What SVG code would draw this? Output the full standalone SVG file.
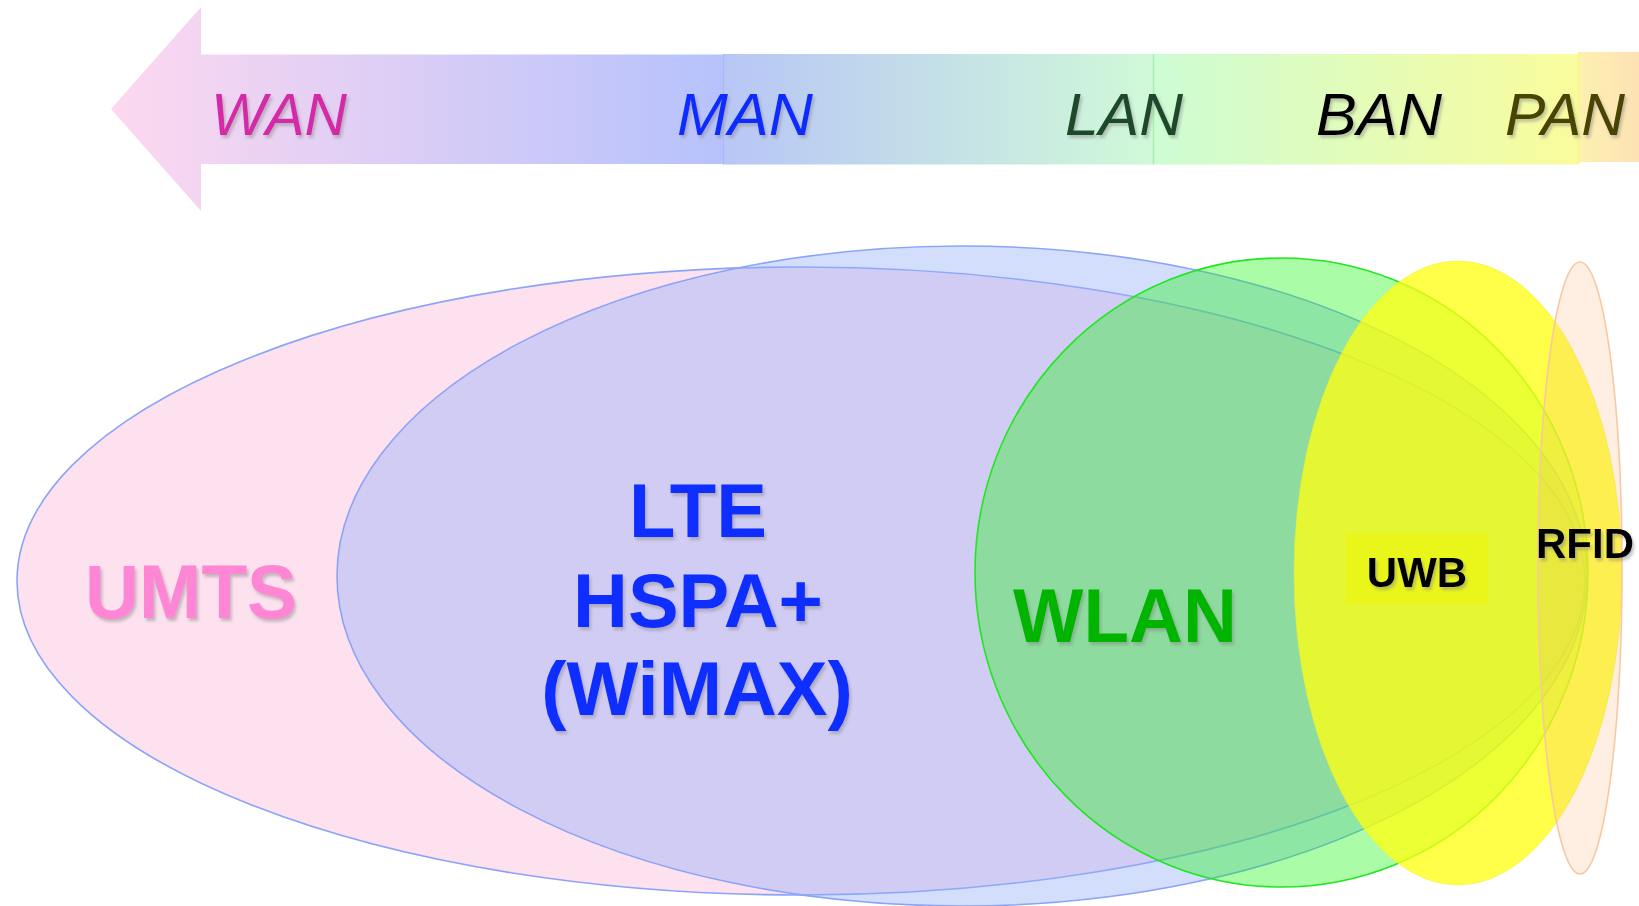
<svg xmlns="http://www.w3.org/2000/svg" width="1639" height="906" viewBox="0 0 1639 906">
<defs>
  <linearGradient id="gWan" gradientUnits="userSpaceOnUse" x1="111" y1="0" x2="723" y2="0">
    <stop offset="0" stop-color="#fdd8f0"/>
    <stop offset="1" stop-color="#b6c2fc"/>
  </linearGradient>
  <linearGradient id="gMan" gradientUnits="userSpaceOnUse" x1="723" y1="0" x2="1153" y2="0">
    <stop offset="0" stop-color="#b8c6f6"/>
    <stop offset="1" stop-color="#d0f9d8"/>
  </linearGradient>
  <linearGradient id="gLan" gradientUnits="userSpaceOnUse" x1="1153" y1="0" x2="1578" y2="0">
    <stop offset="0" stop-color="#cdfcd4"/>
    <stop offset="1" stop-color="#fafc9c"/>
  </linearGradient>
  <linearGradient id="gPan" gradientUnits="userSpaceOnUse" x1="1578" y1="0" x2="1639" y2="0">
    <stop offset="0" stop-color="#fdf0b0"/>
    <stop offset="1" stop-color="#fde2b4"/>
  </linearGradient>
  <filter id="sh" x="-10%" y="-20%" width="130%" height="150%">
    <feDropShadow dx="2" dy="3" stdDeviation="1.5" flood-color="#808080" flood-opacity="0.45"/>
  </filter>
</defs>
<style>
  .scale { font-family: "Liberation Sans", Arial, sans-serif; font-style: italic; font-size: 60px; filter: url(#sh); }
  .big { font-family: "Liberation Sans", Arial, sans-serif; font-weight: bold; font-size: 76px; text-anchor: middle; filter: url(#sh); }
  .small { font-family: "Liberation Sans", Arial, sans-serif; font-weight: bold; font-size: 42px; text-anchor: middle; fill: #000; filter: url(#sh); }
  .ell { stroke-width: 1.6; }
</style>

<g id="range-scale">
  <polygon points="111,109 201,7 201,54.5 723,54.5 723,164 201,164 201,211" fill="url(#gWan)"/>
  <rect x="723" y="54" width="430" height="110.5" fill="url(#gMan)"/>
  <line x1="723.5" y1="54" x2="723.5" y2="164.5" stroke="#a9b8f6" stroke-width="1"/>
  <rect x="1153" y="54" width="425" height="110.5" fill="url(#gLan)"/>
  <line x1="1153.5" y1="54" x2="1153.5" y2="164.5" stroke="#a8f0b0" stroke-width="1.5"/>
  <rect x="1578" y="52" width="61" height="110" fill="url(#gPan)"/>
  <line x1="1578.5" y1="52" x2="1578.5" y2="164" stroke="#f6f890" stroke-width="2"/>
  <text class="scale" x="211" y="135" fill="#d42aa8" textLength="136" lengthAdjust="spacingAndGlyphs">WAN</text>
  <text class="scale" x="677" y="135" fill="#0a2cff" textLength="136" lengthAdjust="spacingAndGlyphs">MAN</text>
  <text class="scale" x="1065" y="135" fill="#1c4a2c" textLength="118" lengthAdjust="spacingAndGlyphs">LAN</text>
  <text class="scale" x="1316" y="135" fill="#000000" textLength="126" lengthAdjust="spacingAndGlyphs">BAN</text>
  <text class="scale" x="1505" y="135" fill="#4a4400" textLength="120" lengthAdjust="spacingAndGlyphs">PAN</text>
</g>

<g id="umts">
  <ellipse class="ell" cx="801" cy="581" rx="784" ry="314" fill="#fde1ef" stroke="#8ca4f8"/>
</g>
<g id="lte">
  <ellipse class="ell" cx="962" cy="576" rx="625" ry="330" fill="#94b0f8" fill-opacity="0.42" stroke="#8ca4f8"/>
</g>
<g id="wlan">
  <ellipse class="ell" cx="1281.5" cy="572.5" rx="306.5" ry="314.5" fill="#0ef700" fill-opacity="0.35" stroke="#22e622"/>
</g>
<g id="uwb">
  <ellipse cx="1458" cy="573" rx="164" ry="312" fill="#ffff10" fill-opacity="0.76" stroke="#eef030" stroke-opacity="0.5" stroke-width="1"/>
</g>
<g id="rfid">
  <ellipse class="ell" cx="1580" cy="568" rx="42" ry="306" fill="#f8b070" fill-opacity="0.2" stroke="#f8c8a0"/>
</g>

<g id="labels">
  <text class="big" x="191" y="618" fill="#fe86d5" textLength="212" lengthAdjust="spacingAndGlyphs">UMTS</text>
  <g id="lte-label" fill="#0a2eff">
    <text class="big" x="698" y="537">LTE</text>
    <text class="big" x="698" y="627">HSPA+</text>
    <text class="big" x="697" y="715">(WiMAX)</text>
  </g>
  <text class="big" x="1125" y="642" fill="#00b400" textLength="224" lengthAdjust="spacingAndGlyphs">WLAN</text>
  <g id="uwb-label">
    <rect x="1346" y="534" width="142" height="70" fill="#eaf51a"/>
    <text class="small" x="1417" y="587">UWB</text>
  </g>
  <text class="small" x="1585" y="558" font-size="41">RFID</text>
</g>

<g id="connectors"/>
</svg>
